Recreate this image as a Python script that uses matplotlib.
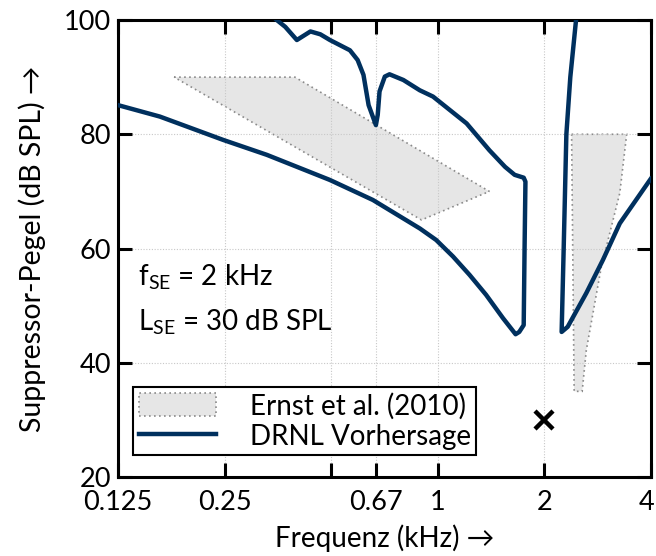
import matplotlib.pyplot as plt
import matplotlib.transforms as mtransforms
from matplotlib.patches import Patch
from matplotlib.lines import Line2D
from matplotlib.ticker import FixedLocator, NullLocator

plt.rcParams['font.family'] = ['Lato', 'DejaVu Sans']
plt.rcParams['mathtext.fontset'] = 'custom'
plt.rcParams['mathtext.rm'] = 'Lato'
plt.rcParams['font.size'] = 19

NAVY = "#00305e"
GRAY_FILL = "#e6e6e6"
GRAY_EDGE = "#8a8a8a"

# DRNL contour, low-frequency part (lower branch -> tip -> upper branch)
drnl1_f = [0.125, 0.164, 0.248, 0.329, 0.496, 0.656, 0.891, 0.99, 1.105, 1.23,
           1.37, 1.53, 1.66, 1.70, 1.75, 1.76, 1.77, 1.75, 1.65, 1.55, 1.40,
           1.207, 0.97, 0.89, 0.80, 0.731, 0.709, 0.685, 0.677, 0.669, 0.638,
           0.617, 0.594, 0.565, 0.496, 0.466, 0.437, 0.400, 0.371, 0.351]
drnl1_L = [85.1, 83.1, 79.0, 76.4, 72.0, 68.5, 63.5, 61.5, 58.6, 55.4,
           51.9, 47.8, 45.0, 45.4, 46.6, 60.0, 71.7, 72.4, 72.9, 74.3, 77.2,
           81.9, 86.6, 87.7, 89.5, 90.5, 90.1, 87.5, 83.4, 81.6, 85.1,
           90.4, 93.0, 94.7, 96.5, 97.5, 98.0, 96.5, 98.8, 100.0]

# DRNL contour, high-frequency part
drnl2_f = [2.46, 2.37, 2.31, 2.27, 2.24, 2.33, 2.63, 2.93, 3.27, 4.0]
drnl2_L = [100.0, 90.0, 80.0, 60.0, 45.4, 46.3, 52.2, 58.0, 64.4, 72.2]

# Ernst et al. (2010) regions
ernst1_f = [0.18, 0.395, 1.40, 0.90]
ernst1_L = [90, 90, 70, 65]
ernst2_f = [2.39, 3.42, 3.27, 2.9, 2.63, 2.56, 2.43]
ernst2_L = [80, 80, 69.7, 56.8, 42.2, 35, 35]

# probe tone
probe_f = 2.0
probe_L = 30.0

xticks = [0.125, 0.25, 0.5, 0.67, 1, 2, 4]
xticklabels = ["0.125", "0.25", "", "0.67", "1", "2", "4"]
yticks = [20, 40, 60, 80, 100]

fig = plt.figure(figsize=(6.56, 5.56), dpi=100)
ax = fig.add_axes([0.180, 0.142, 0.812, 0.822])

for pf, pl in [(ernst1_f, ernst1_L), (ernst2_f, ernst2_L)]:
    ax.fill(pf, pl, facecolor=GRAY_FILL, edgecolor=GRAY_EDGE,
            linestyle=(0, (1, 2)), linewidth=1.2, zorder=1)

ax.plot(drnl1_f, drnl1_L, color=NAVY, lw=3.2, zorder=3, solid_joinstyle="round")
ax.plot(drnl2_f, drnl2_L, color=NAVY, lw=3.2, zorder=3, solid_joinstyle="round")

ax.plot([probe_f], [probe_L], marker="x", color="black", ms=13, mew=3.2,
        linestyle="none", zorder=4)

ax.set_xscale("log")
ax.set_xlim(0.125, 4)
ax.set_ylim(20, 100)
ax.xaxis.set_major_locator(FixedLocator(xticks))
ax.xaxis.set_minor_locator(NullLocator())
ax.set_xticklabels(xticklabels)
ax.set_yticks(yticks)

ax.grid(True, color="#c8c8c8", linestyle=(0, (1, 1.5)), linewidth=0.8, zorder=0)
ax.tick_params(direction="in", length=10, width=2.2, top=True, right=True,
               labelsize=19.5, pad=5)
ax.tick_params(axis="x", pad=9)
for s in ax.spines.values():
    s.set_linewidth(2.2)

# keep the "4" inside the canvas
last = ax.get_xticklabels()[-1]
last.set_transform(last.get_transform() +
                   mtransforms.ScaledTranslation(-4 / 100, 0, fig.dpi_scale_trans))

ax.set_xlabel("Frequenz (kHz) →", fontsize=20, labelpad=7)
ax.set_ylabel("Suppressor-Pegel (dB SPL) →", fontsize=20.5, labelpad=13)

ax.text(0.142, 55.0, r"f$_{\mathrm{SE}}$ = 2 kHz", fontsize=20, va="center")
ax.text(0.142, 47.1, r"L$_{\mathrm{SE}}$ = 30 dB SPL", fontsize=20, va="center")

handles = [
    Patch(facecolor=GRAY_FILL, edgecolor=GRAY_EDGE, linestyle=(0, (1, 2)),
          linewidth=1.2),
    Line2D([], [], color=NAVY, lw=3.2),
]
leg = ax.legend(handles, ["Ernst et al. (2010)", "DRNL Vorhersage"],
                loc="lower left", bbox_to_anchor=(0.028, 0.048),
                borderaxespad=0, fancybox=False, framealpha=1,
                edgecolor="black", handlelength=2.8, handleheight=0.9,
                handletextpad=1.2, fontsize=20, borderpad=0.2,
                labelspacing=0.15)
leg.get_frame().set_linewidth(1.5)

fig.savefig("out.png", dpi=100)
